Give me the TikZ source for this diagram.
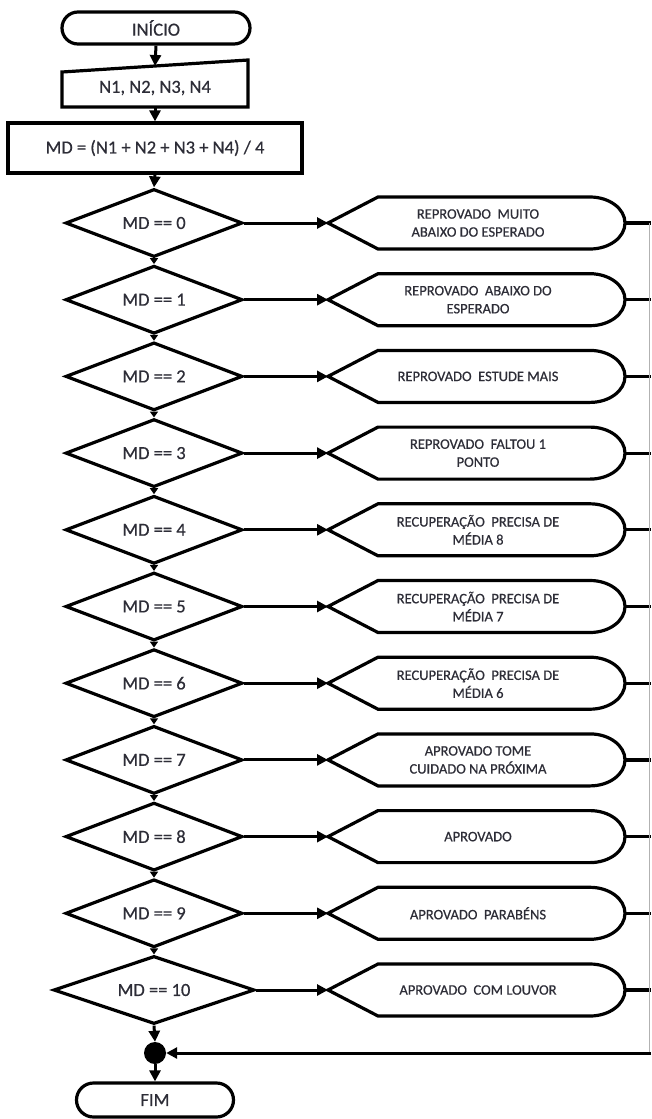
\documentclass[tikz,border=0pt]{standalone}
\usepackage{fontspec}
\setmainfont{Carlito}[FakeBold=0.6]
\usetikzlibrary{shapes.geometric,arrows.meta}
\definecolor{tx}{RGB}{45,45,55}
\begin{document}
\begin{tikzpicture}[x=1pt,y=1pt,
  shp/.style={draw=black,line width=3.2pt,line join=miter},
  term/.style={draw=black,line width=3.2pt,rectangle,inner sep=0pt,text=tx,font=\fontsize{18.5}{22}\selectfont},
  big/.style={text=tx,font=\fontsize{18.5}{22}\selectfont,inner sep=0pt},
  dec/.style={diamond,aspect=3,draw=black,line width=3.2pt,inner sep=0pt,text=tx,font=\fontsize{18.5}{22}\selectfont},
  txt/.style={text=tx,font=\fontsize{14.5}{18}\selectfont,align=center,inner sep=0pt},
  arr/.style={line width=3pt,-{Triangle[length=11pt,width=11pt]}},
  sarr/.style={line width=3pt,-{Triangle[length=6pt,width=8pt]}},
  ln/.style={line width=3.2pt}]
\useasboundingbox (0,0) rectangle (651,-1119);
% start
\node[term,rounded corners=16pt,minimum width=188pt,minimum height=32pt] (ini) at (156,-28) {INÍCIO};
% manual input
\draw[shp] (62,-72) -- (248,-60) -- (248,-107) -- (62,-107) -- cycle;
\node[big] (inp) at (155,-88) {N1, N2, N3, N4};
\coordinate (inpt) at (155,-66);
\coordinate (inpb) at (155,-107);
\draw[arr] (ini.south) -- (inpt);
% process
\node[term,minimum width=294pt,minimum height=50pt] (proc) at (155,-148) {MD = (N1 + N2 + N3 + N4) / 4};
\draw[arr] (inpb) -- (proc.north);
% decisions and outputs
\foreach \i/\t in {0/{REPROVADO\ \ MUITO\\ABAIXO DO ESPERADO},
                   1/{REPROVADO\ \ ABAIXO DO\\ESPERADO},
                   2/{REPROVADO\ \ ESTUDE MAIS},
                   3/{REPROVADO\ \ FALTOU 1\\PONTO},
                   4/{RECUPERAÇÃO\ \ PRECISA DE\\MÉDIA 8},
                   5/{RECUPERAÇÃO\ \ PRECISA DE\\MÉDIA 7},
                   6/{RECUPERAÇÃO\ \ PRECISA DE\\MÉDIA 6},
                   7/{APROVADO TOME\\CUIDADO NA PRÓXIMA},
                   8/{APROVADO},
                   9/{APROVADO\ \ PARABÉNS},
                   10/{APROVADO\ \ COM LOUVOR}} {
  \pgfmathsetmacro\yy{-223-76.7*\i}
  \pgfmathsetmacro\ww{ifthenelse(\i==10,201,177)}
  \node[dec,minimum width=\ww pt,minimum height=68pt] (m\i) at (154,\yy) {MD == \i};
  \draw[shp] (328,\yy) -- (378,\yy+26) -- (590,\yy+26)
     arc[start angle=90,end angle=-90,x radius=35pt,y radius=26pt] -- (378,\yy-26) -- cycle;
  \node[txt] (d\i) at (478,\yy) {\t};
  \coordinate (dl\i) at (328,\yy);
  \coordinate (dr\i) at (625,\yy);
  \coordinate (e\i) at (651,\yy);
  \draw[arr] (m\i.east) -- (dl\i);
  \draw[ln] (dr\i) -- (e\i);
}
\draw[arr] (proc.south) -- (m0.north);
\foreach \i [evaluate=\i as \j using int(\i+1)] in {0,...,9} {
  \draw[sarr] (m\i.south) -- (m\j.north);
}
% right collector
\coordinate (jr) at (651,-1053);
\draw[gray!60,line width=1pt] (649.5,-223) -- (649.5,-1053);
% junction and end
\node[circle,fill=black,minimum size=22pt,inner sep=0pt] (j) at (155,-1053) {};
\node[term,rounded corners=17pt,minimum width=157pt,minimum height=34pt] (fim) at (155,-1100) {FIM};
\draw[arr] (m10.south) -- (j.north);
\draw[arr] (j.south) -- (fim.north);
\draw[arr] (jr) -- (j.east);
\end{tikzpicture}
\end{document}
